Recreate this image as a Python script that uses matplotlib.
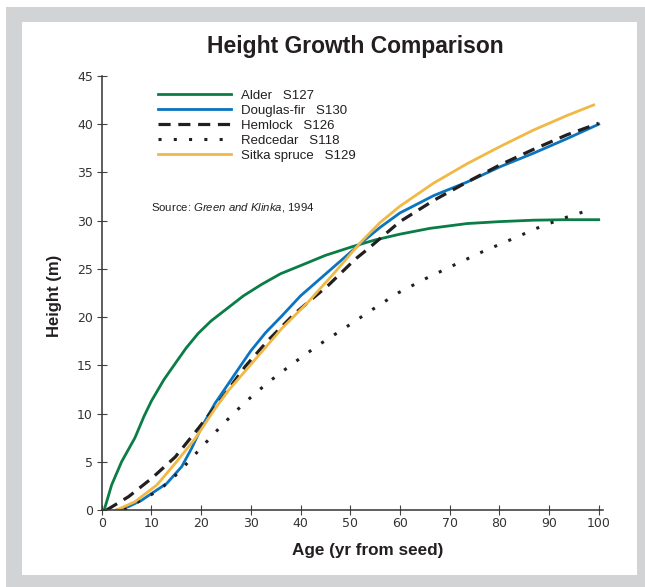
import matplotlib
matplotlib.use("Agg")
import matplotlib.pyplot as plt
from matplotlib.patches import Rectangle

# values (age in years, height in m)
alder_age = [0.5, 2, 4, 6.7, 8.5, 10, 12.5, 14.8, 17, 19.4, 22, 25.5, 28.5, 32.2, 36, 40.3, 45, 51,
             55, 60, 66, 73.5, 80, 86.9, 93, 100]
alder_h = [0, 2.6, 5.0, 7.5, 9.7, 11.3, 13.5, 15.2, 16.8, 18.3, 19.6, 21.0, 22.2, 23.4, 24.5, 25.4,
           26.4, 27.4, 28.0, 28.6, 29.2, 29.7, 29.9, 30.05, 30.1, 30.1]

fir_age = [3, 5.4, 8, 10.1, 13.1, 16.1, 18.1, 20.1, 22.8, 25.5, 28, 30, 33, 36.2, 40, 44, 48, 52,
           56, 60, 66.8, 73.5, 80.2, 86.9, 93.6, 100]
fir_h = [0, 0.35, 1.0, 1.73, 2.76, 4.5, 6.4, 8.6, 11.06, 13.1, 15.0, 16.5, 18.4, 20.1, 22.2, 24.0,
         25.8, 27.6, 29.3, 30.8, 32.6, 34.0, 35.6, 37.0, 38.5, 40.0]

hemlock_age = [1, 5.4, 10.1, 14.8, 19.5, 24.2, 28.9, 33.5, 38.9, 45.6, 51, 53.4, 60, 66.8, 73.5,
               80.2, 86.9, 93.6, 100]
hemlock_h = [0, 1.38, 3.3, 5.5, 8.5, 11.6, 14.9, 17.6, 20.4, 23.3, 26.0, 27.0, 29.9, 32.1, 34.0,
             35.8, 37.4, 38.9, 40.1]

cedar_age = [4.5, 8, 10.7, 13.3, 15.6, 17.8, 19.9, 24.2, 28.7, 33.4, 38.5, 43.6, 49, 54.2, 59.6,
             65.2, 70.9, 76.7, 82.6, 88.4, 94.3, 97.5]
cedar_h = [0, 1.04, 1.8, 2.8, 3.97, 5.2, 6.4, 8.8, 11.1, 13.2, 15.2, 17.1, 18.9, 20.7, 22.5,
           24.0, 25.4, 26.8, 28.1, 29.4, 30.5, 31.0]

spruce_age = [3, 6.7, 11.1, 14.8, 18.8, 22.8, 25.5, 30.2, 36.2, 41.6, 47, 52, 56, 60, 66.8, 73.5,
              80.2, 86.9, 93.6, 99]
spruce_h = [0, 0.86, 2.6, 4.84, 7.4, 10.5, 12.4, 15.2, 18.8, 21.6, 24.7, 27.7, 29.8, 31.5, 33.9,
            35.9, 37.7, 39.4, 40.9, 42.0]

labels = ["Alder   S127", "Douglas-fir   S130", "Hemlock   S126", "Redcedar   S118",
          "Sitka spruce   S129"]
xticks = [0, 10, 20, 30, 40, 50, 60, 70, 80, 90, 100]
yticks = [0, 5, 10, 15, 20, 25, 30, 35, 40, 45]

plt.rcParams['font.family'] = ['Liberation Sans', 'DejaVu Sans']
plt.rcParams['mathtext.fontset'] = 'custom'
plt.rcParams['mathtext.rm'] = 'Liberation Sans'
plt.rcParams['mathtext.it'] = 'Liberation Sans:italic'

W, H = 645, 587
fig = plt.figure(figsize=(W / 100, H / 100), dpi=100)

# grey frame with white panel
fig.patches.append(Rectangle((6 / W, 0), 1, 1 - 7 / H, transform=fig.transFigure,
                             facecolor="#d2d3d5", edgecolor="none", zorder=-10))
fig.patches.append(Rectangle((22 / W, 1 - 575 / H), (637 - 22) / W, (575 - 22) / H,
                             transform=fig.transFigure, facecolor="white", edgecolor="none", zorder=-9))

x0, x1, y0, y1 = 101.7, 602.7, 510, 76
ax = fig.add_axes([x0 / W, 1 - y0 / H, (x1 - x0) / W, (y0 - y1) / H])
ax.patch.set_visible(False)

ax.plot(alder_age, alder_h, color="#0a7c46", lw=2.0, label=labels[0])
ax.plot(fir_age, fir_h, color="#0a74bf", lw=2.0, label=labels[1])
ax.plot(hemlock_age, hemlock_h, color="#231f20", lw=2.3, linestyle=(0, (3.8, 2.4)), label=labels[2])
ax.plot(cedar_age, cedar_h, color="#231f20", lw=2.2, linestyle=(0, (1, 4)), label=labels[3])
ax.plot(spruce_age, spruce_h, color="#f0b946", lw=2.0, label=labels[4])

ax.set_xlim(0, 100.8)
ax.set_ylim(0, 45)
ax.set_xticks(xticks)
ax.set_yticks(yticks)
for s in ["top", "right"]:
    ax.spines[s].set_visible(False)
for s in ["left", "bottom"]:
    ax.spines[s].set_linewidth(1.1)
    ax.spines[s].set_color("#333333")
ax.tick_params(direction="inout", length=7.5, width=0.8, color="#444444",
               labelsize=9, labelcolor="#333333", labelfontfamily="DejaVu Sans")
ax.tick_params(axis="x", pad=1.5)
ax.tick_params(axis="y", pad=2.5)

ax.set_xlabel("Age (yr from seed)", fontsize=12.3, fontweight="bold", color="#231f20", va="center")
ax.xaxis.set_label_coords((368 - x0) / (x1 - x0), (y0 - 551) / (y0 - y1))
ax.set_ylabel("Height (m)", fontsize=12, fontweight="bold", color="#231f20", va="center")
ax.yaxis.set_label_coords((54 - x0) / (x1 - x0), (y0 - 296) / (y0 - y1))

fig.text(355 / W, 1 - 46 / H, "Height Growth Comparison", fontsize=16.5, fontweight="bold",
         color="#231f20", ha="center", va="center")

ax.legend(loc="upper left", bbox_to_anchor=(158.3 / W, 1 - 89.3 / H), bbox_transform=fig.transFigure,
          frameon=False, fontsize=9.5, handlelength=5.5, handletextpad=0.76, labelspacing=0.21,
          borderpad=0, borderaxespad=0, labelcolor="#231f20")

ax.text((151 - x0) / (x1 - x0), (y0 - 207) / (y0 - y1), r"Source: $\it{Green\ and\ Klinka}$, 1994",
        transform=ax.transAxes, fontsize=8.2, color="#231f20", va="center", ha="left")

fig.savefig("out.png", dpi=100)
